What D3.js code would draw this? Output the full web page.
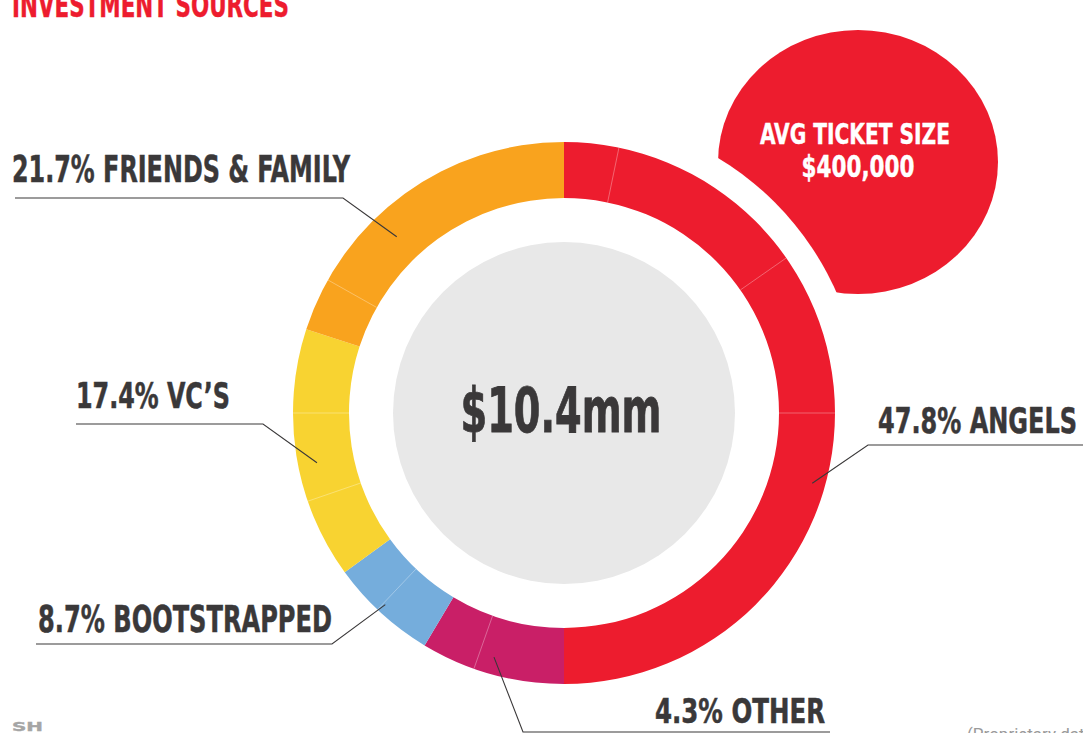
<!DOCTYPE html>
<html>
<head>
<meta charset="utf-8">
<script src="https://cdn.jsdelivr.net/npm/d3@7"></script>
<style>
  html, body { margin: 0; padding: 0; background: #fff; overflow: hidden; }
  svg { display: block; }
  .cond { font-family: "Liberation Sans Narrow", "DejaVu Sans Condensed", "Arial Narrow", sans-serif; font-weight: bold; }
</style>
</head>
<body>
<svg id="chart" width="1083" height="733"></svg>
<script>
// Chart data
const sources = ["ANGELS", "OTHER", "BOOTSTRAPPED", "VC\u2019S", "FRIENDS & FAMILY"];
const labelPct = [47.8, 4.3, 8.7, 17.4, 21.7];
// share of the ring each slice actually takes in the drawing
const arcShare = [50, 8.6, 6.4, 15, 20];
const sliceColors = ["#ed1c2e", "#c91f67", "#75addc", "#f8d331", "#f9a31e"];
// faint joins inside the ring (degrees clockwise from 12 o'clock)
const seamAngles = [11.7, 55.1, 90, 199.4, 223.5, 251, 270, 299.4];
const totalRaised = "$10.4mm";
const ticketTitle = "AVG TICKET SIZE";
const ticketValue = "$400,000";

const ink = "#3a3839";
const svg = d3.select("#chart");
const cx = 564, cy = 413, outerR = 271, innerR = 215;

// bubble, masked by a white gap around the donut
const defs = svg.append("defs");
const mask = defs.append("mask").attr("id", "gap");
mask.append("rect").attr("width", 1083).attr("height", 733).attr("fill", "#fff");
mask.append("circle").attr("cx", cx).attr("cy", cy).attr("r", 298).attr("fill", "#000");

svg.append("ellipse")
    .attr("cx", 858).attr("cy", 162).attr("rx", 140).attr("ry", 132)
    .attr("fill", "#ed1c2e")
    .attr("mask", "url(#gap)");

// squeeze/stretch a text element to a width (keeps the condensed look)
function fitText(sel, w) {
    sel.attr("textLength", w).attr("lengthAdjust", "spacingAndGlyphs");
    return sel;
}

svg.append("text").attr("class", "cond")
    .attr("x", 855).attr("y", 144)
    .attr("text-anchor", "middle")
    .attr("font-size", 29).attr("fill", "#fff")
    .attr("stroke", "#fff").attr("stroke-width", 0.4)
    .text(ticketTitle)
    .call(fitText, 190);

svg.append("text").attr("class", "cond")
    .attr("x", 858).attr("y", 177)
    .attr("text-anchor", "middle")
    .attr("font-size", 30).attr("fill", "#fff")
    .attr("stroke", "#fff").attr("stroke-width", 0.4)
    .text(ticketValue)
    .call(fitText, 113);

// donut
const g = svg.append("g").attr("transform", `translate(${cx},${cy})`);

g.append("circle").attr("r", 171).attr("fill", "#e8e8e8");

const pie = d3.pie().sort(null).value(d => d);
const arc = d3.arc().innerRadius(innerR).outerRadius(outerR);
const slices = pie(arcShare);

g.selectAll("path.slice")
    .data(slices)
    .enter()
    .append("path")
    .attr("class", "slice")
    .attr("d", arc)
    .attr("fill", (d, i) => sliceColors[i]);

g.selectAll("line.seam")
    .data(seamAngles)
    .enter()
    .append("line")
    .attr("class", "seam")
    .attr("x1", d => d3.pointRadial(d * Math.PI / 180, innerR)[0])
    .attr("y1", d => d3.pointRadial(d * Math.PI / 180, innerR)[1])
    .attr("x2", d => d3.pointRadial(d * Math.PI / 180, outerR)[0])
    .attr("y2", d => d3.pointRadial(d * Math.PI / 180, outerR)[1])
    .attr("stroke", "rgba(255,255,255,0.4)")
    .attr("stroke-width", 0.8);

g.append("text").attr("class", "cond")
    .attr("x", -3).attr("y", 19)
    .attr("text-anchor", "middle")
    .attr("font-size", 62).attr("fill", ink)
    .attr("stroke", ink).attr("stroke-width", 0.8)
    .text(totalRaised)
    .call(fitText, 201);

// labels and leader lines: anchor angle/radius on the ring, elbow, line end
const labelLayout = [
    { x: 878, y: 433, w: 199, fs: 36, ang: 105.8, r: 258, elbow: [868, 445], end: 1083 },
    { x: 655, y: 723, w: 170, fs: 34, ang: 196, r: 254, elbow: [523, 732], end: 830 },
    { x: 38, y: 632, w: 294, fs: 37.5, ang: 223, r: 262, elbow: [332, 644], end: 36 },
    { x: 76, y: 408, w: 154, fs: 35, ang: 258.6, r: 252, elbow: [263, 424], end: 76 },
    { x: 12, y: 182, w: 338, fs: 37.5, ang: 316.5, r: 243, elbow: [343, 198], end: 15 }
];

const fmt = d3.format(".1f");

sources.forEach((name, i) => {
    const L = labelLayout[i];
    const p = d3.pointRadial(L.ang * Math.PI / 180, L.r);
    const pts = [[cx + p[0], cy + p[1]], L.elbow, [L.end, L.elbow[1]]];
    svg.append("path")
        .attr("d", d3.line()(pts))
        .attr("fill", "none")
        .attr("stroke", ink)
        .attr("stroke-width", 1.1);

    svg.append("text").attr("class", "cond")
        .attr("x", L.x).attr("y", L.y)
        .attr("font-size", L.fs).attr("fill", ink)
        .attr("stroke", ink).attr("stroke-width", 0.5)
        .text(fmt(labelPct[i]) + "% " + name)
        .call(fitText, L.w);
});

// title and footer
svg.append("text").attr("class", "cond")
    .attr("x", 12).attr("y", 17)
    .attr("font-size", 33).attr("fill", "#ed1c2e")
    .attr("stroke", "#ed1c2e").attr("stroke-width", 0.4)
    .text("INVESTMENT SOURCES")
    .call(fitText, 277);

svg.append("text")
    .attr("x", 12).attr("y", 731)
    .attr("font-family", "DejaVu Sans")
    .attr("font-weight", "bold")
    .attr("font-size", 13).attr("fill", "#a5a5a5")
    .attr("stroke", "#a5a5a5").attr("stroke-width", 0.4)
    .text("SH")
    .call(fitText, 31);

svg.append("text")
    .attr("x", 967).attr("y", 740)
    .attr("font-family", "Roboto, sans-serif")
    .attr("font-size", 17).attr("fill", "#9a9a9a")
    .text("(Proprietary data)");
</script>
</body>
</html>
